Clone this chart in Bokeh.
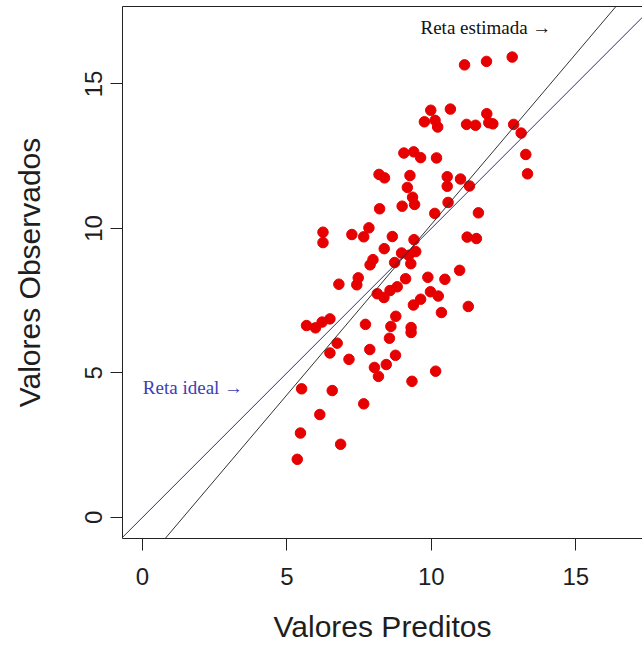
from bokeh.plotting import figure
from bokeh.models import ColumnDataSource, Slope, Label, LinearAxis, FixedTicker, Range1d
from bokeh.embed import file_html
from bokeh.resources import INLINE

# Valores preditos (x) e observados (y)
valores_preditos = [
    11.15, 11.91, 12.80, 9.98, 10.66, 9.76, 10.13, 10.22, 11.22, 11.53,
    11.92, 11.99, 12.13, 12.85, 13.11, 9.05, 9.39, 9.63, 10.18, 13.27,
    13.33, 9.26, 10.55, 11.01, 11.32, 9.17, 10.55, 8.19, 8.38, 8.21,
    8.99, 9.35, 9.42, 10.58, 10.12, 11.63, 6.25, 6.25, 7.25, 7.66,
    7.84, 8.65, 8.37, 9.40, 11.24, 11.56, 8.97, 9.22, 9.46, 8.73,
    7.98, 7.88, 9.29, 10.98, 6.80, 7.47, 7.42, 9.11, 9.88, 10.47,
    8.82, 8.57, 8.13, 8.36, 9.97, 10.24, 9.63, 9.38, 11.28, 10.35,
    8.77, 5.68, 5.99, 6.22, 6.49, 7.72, 8.60, 9.30, 9.30, 6.74,
    6.49, 7.15, 7.87, 8.55, 8.76, 8.44, 8.03, 8.17, 9.33, 10.15,
    5.51, 6.57, 7.66, 6.14, 5.47, 6.86, 5.36,
]
valores_observados = [
    15.66, 15.78, 15.93, 14.09, 14.13, 13.69, 13.74, 13.51, 13.60, 13.57,
    13.97, 13.66, 13.62, 13.60, 13.30, 12.61, 12.65, 12.45, 12.44, 12.56,
    11.89, 11.83, 11.79, 11.71, 11.47, 11.42, 11.46, 11.87, 11.75, 10.68,
    10.77, 11.08, 10.83, 10.90, 10.52, 10.54, 9.87, 9.51, 9.79, 9.71,
    10.02, 9.72, 9.30, 9.61, 9.70, 9.65, 9.15, 9.07, 9.20, 8.82,
    8.92, 8.74, 8.78, 8.55, 8.07, 8.29, 8.05, 8.26, 8.31, 8.24,
    7.98, 7.85, 7.74, 7.61, 7.81, 7.66, 7.55, 7.35, 7.30, 7.09,
    6.96, 6.64, 6.56, 6.76, 6.87, 6.68, 6.61, 6.57, 6.40, 6.03,
    5.69, 5.47, 5.81, 6.20, 5.61, 5.29, 5.19, 4.88, 4.71, 5.06,
    4.45, 4.39, 3.93, 3.56, 2.92, 2.53, 2.01,
]

# Retas
reta_ideal = {"intercepto": 0.0, "inclinacao": 1.0}
reta_estimada = {"intercepto": -1.66, "inclinacao": 1.18}

ticks = [0, 5, 10, 15]

FONT = "Liberation Sans"
SERIF = "Liberation Serif"
TXT = "#1e1e1e"

p = figure(
    width=642, height=645,
    x_range=Range1d(-0.69, 17.31), y_range=Range1d(-0.73, 17.68),
    output_backend="svg", toolbar_location=None,
    min_border_left=122, min_border_right=0, min_border_top=6, min_border_bottom=107,
    background_fill_color="white", border_fill_color="white",
)
p.outline_line_color = None
p.grid.visible = False

p.xaxis.axis_label = "Valores Preditos"
p.yaxis.axis_label = "Valores Observados"
for ax in (p.xaxis[0], p.yaxis[0]):
    ax.ticker = FixedTicker(ticks=ticks)
    ax.axis_line_color = "#222222"
    ax.axis_line_width = 1
    ax.major_tick_line_color = "#222222"
    ax.major_tick_out = 12
    ax.major_tick_in = 0
    ax.minor_tick_line_color = None
    ax.major_label_text_font = FONT
    ax.major_label_text_font_size = "24px"
    ax.major_label_text_color = TXT
    ax.axis_label_text_font = FONT
    ax.axis_label_text_font_size = "30px"
    ax.axis_label_text_font_style = "normal"
    ax.axis_label_text_color = TXT

p.xaxis.major_label_standoff = 17
p.xaxis.axis_label_standoff = 22
p.yaxis.major_label_orientation = "vertical"
p.yaxis.major_label_standoff = 8
p.yaxis.axis_label_standoff = 37

top_axis = LinearAxis(
    ticker=FixedTicker(ticks=[]),
    axis_line_color="#222222",
    major_tick_line_color=None,
    minor_tick_line_color=None,
    major_label_text_font_size="0px",
)
p.add_layout(top_axis, "above")

p.add_layout(Slope(gradient=reta_ideal["inclinacao"], y_intercept=reta_ideal["intercepto"],
                   line_color="#2e2e7a", line_width=1))
p.add_layout(Slope(gradient=reta_estimada["inclinacao"], y_intercept=reta_estimada["intercepto"],
                   line_color="#333333", line_width=1))

src = ColumnDataSource(dict(x=valores_preditos, y=valores_observados))
p.scatter("x", "y", source=src, size=10.5, fill_color="#e60000", line_color="#e60000")

p.add_layout(Label(x=11.89, y=16.96, text="Reta estimada \u2192", text_align="center",
                   text_baseline="middle", text_font=SERIF, text_font_size="19px",
                   text_color="#111111"))
p.add_layout(Label(x=1.75, y=4.50, text="Reta ideal \u2192", text_align="center",
                   text_baseline="middle", text_font=SERIF, text_font_size="19px",
                   text_color="#3d3db5"))

open("out.html", "w").write(file_html(p, INLINE))
